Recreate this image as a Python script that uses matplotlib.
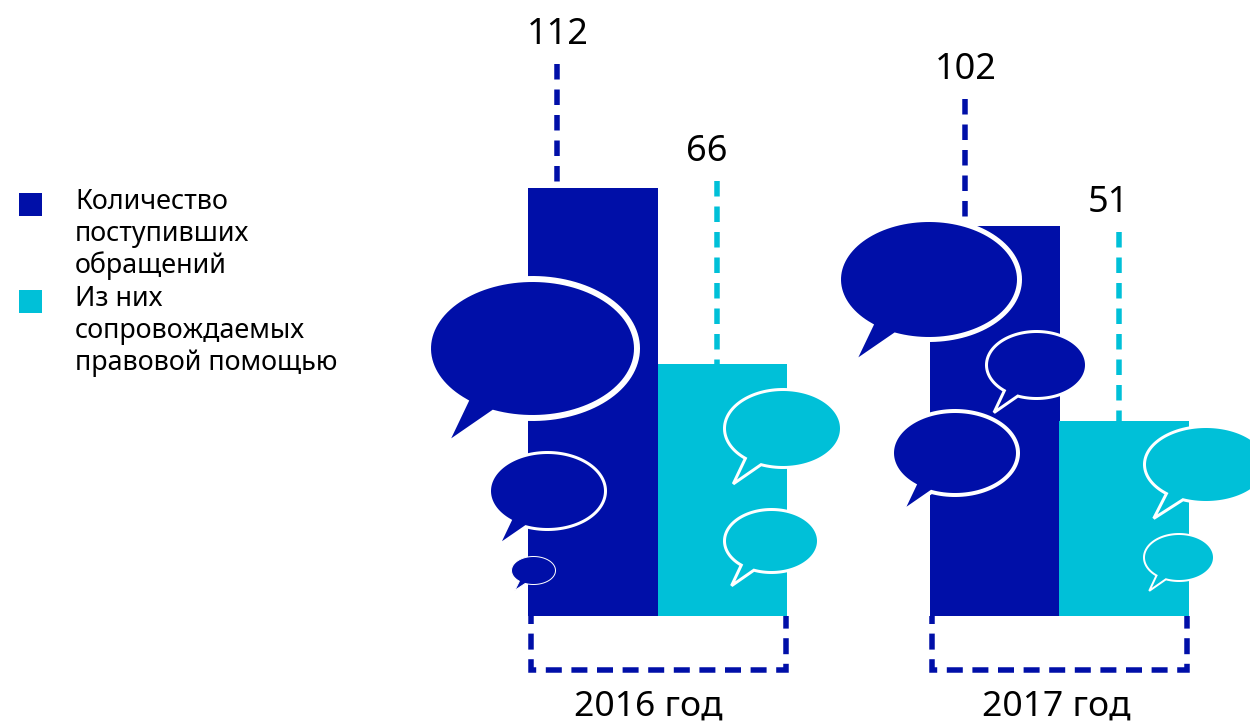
import numpy as np
import matplotlib
matplotlib.use("Agg")
import matplotlib.pyplot as plt
from matplotlib.patches import PathPatch, Rectangle
from matplotlib.path import Path

plt.rcParams["font.family"] = ["Noto Sans", "DejaVu Sans"]
plt.rcParams["lines.scale_dashes"] = False

years = ["2016 год", "2017 год"]
received = [112, 102]
assisted = [66, 51]
legend_labels = ["Количество\nпоступивших\nобращений",
                 "Из них\nсопровождаемых\nправовой помощью"]

DARK = "#000FA8"
CYAN = "#00C0D8"
PX = 0.72  # one pixel in points at dpi 100
BASE_Y = 616
SCALE = 3.82  # pixels per unit


def bubble(ax, x0, x1, y0, y1, color, lw):
    """Speech bubble from the box of its fill, lw is the white outline in px."""
    cx, cy = (x0 + x1) / 2, (y0 + y1) / 2
    rx, ry = (x1 - x0) / 2 + lw / 2, (y1 - y0) / 2 + lw / 2
    # ellipse goes the long way round from one side of the tail to the other
    t = np.radians(np.linspace(130, 130 + 342, 120))
    pts = np.column_stack([np.cos(t), np.sin(t)]).tolist()
    pts.append([-0.85, 1.42])
    pts.append(pts[0])
    pts = np.array(pts) * [rx, ry] + [cx, cy]
    ax.add_patch(PathPatch(Path(pts, closed=True), facecolor=color, edgecolor="white",
                           linewidth=lw * PX, joinstyle="miter", zorder=5))


fig = plt.figure(figsize=(12.5, 7.22), dpi=100)

# bars on a value axis
ax = fig.add_axes([0, 0, 1, 1])
ax.set_xlim(0, 1250)
ax.set_ylim((BASE_Y - 722) / SCALE, BASE_Y / SCALE)
ax.axis("off")
ax.bar([528, 930], received, width=130, align="edge", color=DARK, zorder=2)
ax.bar([657.5, 1059], assisted, width=129.5, align="edge", color=CYAN, zorder=2)

# overlay in pixel coordinates for dashes, bubbles and text
ov = fig.add_axes([0, 0, 1, 1], facecolor="none")
ov.set_xlim(0, 1250)
ov.set_ylim(722, 0)
ov.axis("off")

dash = (0, (15.5 * PX, 10 * PX))
for x, top, val, color in [(557, 64, received[0], DARK), (717, 181, assisted[0], CYAN),
                           (965, 99, received[1], DARK), (1118.5, 232, assisted[1], CYAN)]:
    ov.plot([x, x], [top, BASE_Y - val * SCALE], color=color, lw=5.5 * PX,
            linestyle=dash, dash_capstyle="butt", zorder=1)

for x0, x1 in [(530.5, 786), (931.5, 1187)]:
    ov.plot([x0, x0, x1, x1], [BASE_Y, 670, 670, BASE_Y], color=DARK, lw=5.5 * PX,
            linestyle=(8 * PX, (16 * PX, 9.6 * PX)), dash_capstyle="butt",
            dash_joinstyle="miter", zorder=1)

bubble(ov, 431, 634, 282, 415, DARK, 6)
bubble(ov, 491, 604, 454, 528, DARK, 3)
bubble(ov, 512, 555, 557, 584, DARK, 1)
bubble(ov, 726, 840, 391, 466, CYAN, 3)
bubble(ov, 726, 817, 511, 571, CYAN, 3)
bubble(ov, 841, 1017, 222, 337, DARK, 5)
bubble(ov, 988, 1085, 333, 397, DARK, 3)
bubble(ov, 894, 1016, 413, 493, DARK, 4)
bubble(ov, 1146, 1266, 428, 501, CYAN, 3)
bubble(ov, 1145, 1213, 535, 580, CYAN, 2)

for x, y, val in [(558, 35, received[0]), (707, 152, assisted[0]),
                  (966, 70, received[1]), (1108, 203, assisted[1])]:
    ov.text(x, y, str(val), ha="center", va="center", fontsize=26, color="black")

for x, label in zip([648, 1056], years):
    ov.text(x, 707, label, ha="center", va="center", fontsize=25.5, color="black")

for y, color, label, ty in [(193, DARK, legend_labels[0], 234), (290, CYAN, legend_labels[1], 331)]:
    ov.add_patch(Rectangle((19, y), 23, 23, facecolor=color, edgecolor="none"))
    ov.text(75, ty, label, ha="left", va="center", fontsize=19.4, linespacing=1.17, color="black")

fig.savefig("out.png", dpi=100)
